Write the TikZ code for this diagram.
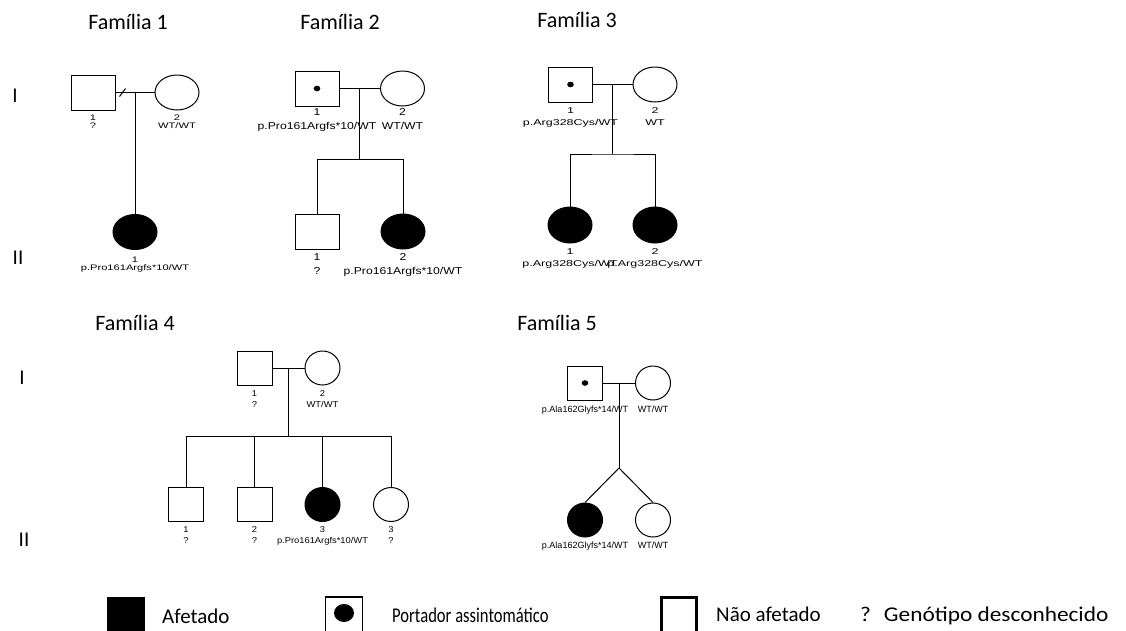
\documentclass[tikz,border=0pt]{standalone}
\usepackage{fontspec}
\setmainfont{Carlito}
\newfontfamily\legnarrow[FakeStretch=0.79]{Carlito}
\newfontfamily\legwide[FakeStretch=1.11]{Carlito}
\newfontfamily\labfontA[FakeStretch=1.39]{Liberation Sans}
\newfontfamily\labfontB[FakeStretch=1.22]{Liberation Sans}
\newfontfamily\labfontC[FakeStretch=1.47]{Liberation Sans}
\newfontfamily\labfontD[FakeStretch=1.1]{Liberation Sans}
\newfontfamily\labfontE{Liberation Sans}
\usetikzlibrary{positioning,shapes.geometric,calc}

\tikzset{
  sym/.style={draw, line width=1pt, inner sep=0pt},
  big/.style={minimum width=44pt, minimum height=35pt},
  small/.style={minimum width=35pt, minimum height=34pt},
  male/.style={sym, rectangle},
  female/.style={sym, ellipse},
  affected/.style={fill=black},
  carrier/.style={path picture={\fill (path picture bounding box.center) ellipse (3.3pt and 2.8pt);}},
  ped/.style={line width=1pt},
  lab/.style={inner sep=0pt, align=center},
  labA/.style={lab, font=\labfontA\fontsize{8}{8}\selectfont},
  labB/.style={lab, font=\labfontB\fontsize{10}{14}\selectfont},
  labC/.style={lab, font=\labfontC\fontsize{8.5}{12}\selectfont},
  labD/.style={lab, font=\labfontD\fontsize{8.5}{11}\selectfont},
  labE/.style={lab, font=\labfontE\fontsize{9}{11}\selectfont},
  title/.style={font=\fontsize{22}{22}\selectfont, inner sep=0pt},
  gen/.style={font=\fontsize{21}{21}\selectfont, inner sep=0pt},
  legtext/.style={font=\fontsize{21}{21}\selectfont, inner sep=0pt, anchor=base west},
}

\begin{document}
\begin{tikzpicture}[x=1pt, y=-1pt]
  \useasboundingbox (0,0) rectangle (1126,630);
  \clip (0,0) rectangle (1126,630);

  % generations
  \node[gen] (genIa) at (15,96) {I};
  \node[gen] (genIIa) at (18,258) {II};
  \node[gen] (genIb) at (22,378) {I};
  \node[gen] (genIIb) at (24,540) {II};

  %%%%%%%%%%%%%%%%%%%%%%%%%%%%%%%%%%%%%%%%%%%%%%%%%%%%%%%%%%%%%%%%%%%%%%%%%%%
  %%%%  Familia 1
  \node[title] (t1) at (128,22) {Família 1};
  \node[male, big] (f1m) at (93,92.5) {};
  \node[female, big] (f1f) at (177,92.5) {};
  \node[female, big, affected] (f1c) at (135,232) {};
  \coordinate (f1j) at (f1c |- f1m);
  \draw[ped] (f1m) -- (f1f);
  \draw[ped] (f1j) -- (f1c.north);
  \draw[ped] ([shift={(4,4)}]f1m.east) -- ([shift={(10,-4)}]f1m.east);
  \node[labA, below=4.5pt of f1m] (f1ml) {1\\?};
  \node[labA, below=4.5pt of f1f] (f1fl) {2\\WT/WT};
  \node[labA, below=7pt of f1c] (f1cl) {1\\p.Pro161Argfs*10/WT};

  %%%%%%%%%%%%%%%%%%%%%%%%%%%%%%%%%%%%%%%%%%%%%%%%%%%%%%%%%%%%%%%%%%%%%%%%%%%
  %%%%  Familia 2
  \node[title] (t2) at (340,22) {Família 2};
  \node[male, big, carrier] (f2m) at (317,88.5) {};
  \node[female, big] (f2f) at (402.5,88.5) {};
  \node[male, big] (f2c1) at (317,231.5) {};
  \node[female, big, affected] (f2c2) at (403,231.5) {};
  \coordinate (f2j) at ($(f2m.east)!0.5!(f2f.west)$);
  \coordinate (f2sib) at ($(f2j)+(0,71)$);
  \draw[ped] (f2m) -- (f2f);
  \draw[ped] (f2j) -- (f2sib);
  \draw[ped] (f2c1.north) |- (f2sib) -| (f2c2.north);
  \node[labB, below=1.5pt of f2m] (f2ml) {1\\p.Pro161Argfs*10/WT};
  \node[labB, below=1.5pt of f2f] (f2fl) {2\\WT/WT};
  \node[labB, below=4pt of f2c1] (f2c1l) {1\\?};
  \node[labB, below=4pt of f2c2] (f2c2l) {2\\p.Pro161Argfs*10/WT};

  %%%%%%%%%%%%%%%%%%%%%%%%%%%%%%%%%%%%%%%%%%%%%%%%%%%%%%%%%%%%%%%%%%%%%%%%%%%
  %%%%  Familia 3
  \node[title] (t3) at (577,20) {Família 3};
  \node[male, big, carrier] (f3m) at (570.5,84.5) {};
  \node[female, big] (f3f) at (655,84.5) {};
  \node[female, big, affected, minimum height=36pt] (f3c1) at (570,225) {};
  \node[female, big, affected, minimum height=36pt] (f3c2) at (655,225) {};
  \coordinate (f3j) at ($(f3m.east)!0.5!(f3f.west)$);
  \coordinate (f3sib) at ($(f3j)+(0,69.5)$);
  \draw[ped] (f3m) -- (f3f);
  \draw[ped] (f3j) -- (f3sib);
  \draw[ped] (f3c1.north) |- (f3sib) -| (f3c2.north);
  \node[labC, below=4.5pt of f3m] (f3ml) {1\\p.Arg328Cys/WT};
  \node[labC, below=4.5pt of f3f] (f3fl) {2\\WT};
  \node[labC, below=4.5pt of f3c1] (f3c1l) {1\\p.Arg328Cys/WT};
  \node[labC, below=4.5pt of f3c2] (f3c2l) {2\\p.Arg328Cys/WT};

  %%%%%%%%%%%%%%%%%%%%%%%%%%%%%%%%%%%%%%%%%%%%%%%%%%%%%%%%%%%%%%%%%%%%%%%%%%%
  %%%%  Familia 4
  \node[title] (t4) at (135,323) {Família 4};
  \node[male, small] (f4m) at (254.5,368) {};
  \node[female, small] (f4f) at (322.5,368) {};
  \node[male, small] (f4c1) at (186,504.5) {};
  \node[male, small] (f4c2) at (254.5,504.5) {};
  \node[female, small, affected] (f4c3) at (322.5,504.5) {};
  \node[female, small] (f4c4) at (391,504.5) {};
  \coordinate (f4j) at ($(f4m.east)!0.5!(f4f.west)$);
  \coordinate (f4sib) at ($(f4j)+(0,68)$);
  \draw[ped] (f4m) -- (f4f);
  \draw[ped] (f4j) -- (f4sib);
  \draw[ped] (f4c1.north) |- (f4sib) -| (f4c4.north);
  \foreach \c in {f4c2,f4c3}
    \draw[ped] (\c.north) -- (\c |- f4sib);
  \node[labD, below=5pt of f4m] (f4ml) {1\\?};
  \node[labD, below=5pt of f4f] (f4fl) {2\\WT/WT};
  \node[labD, below=4.5pt of f4c1] (f4c1l) {1\\?};
  \node[labD, below=4.5pt of f4c2] (f4c2l) {2\\?};
  \node[labD, below=4.5pt of f4c3] (f4c3l) {3\\p.Pro161Argfs*10/WT};
  \node[labD, below=4.5pt of f4c4] (f4c4l) {3\\?};

  %%%%%%%%%%%%%%%%%%%%%%%%%%%%%%%%%%%%%%%%%%%%%%%%%%%%%%%%%%%%%%%%%%%%%%%%%%%
  %%%%  Familia 5
  \node[title] (t5) at (557,323) {Família 5};
  \node[male, small, carrier] (f5m) at (585,383) {};
  \node[female, small] (f5f) at (653,383) {};
  \node[female, small, affected] (f5c1) at (585,520) {};
  \node[female, small] (f5c2) at (653,520) {};
  \coordinate (f5j) at ($(f5m.east)!0.5!(f5f.west)$);
  \coordinate (f5tw) at ($(f5j)+(0,85)$);
  \draw[ped] (f5m) -- (f5f);
  \draw[ped] (f5j) -- (f5tw);
  \draw[ped] (f5tw) -- (f5c1.north);
  \draw[ped] (f5tw) -- (f5c2.north);
  \node[labE, below=5pt of f5m] (f5ml) {p.Ala162Glyfs*14/WT};
  \node[labE, below=5pt of f5f] (f5fl) {WT/WT};
  \node[labE, below=4pt of f5c1] (f5c1l) {p.Ala162Glyfs*14/WT};
  \node[labE, below=4pt of f5c2] (f5c2l) {WT/WT};

  %%%%%%%%%%%%%%%%%%%%%%%%%%%%%%%%%%%%%%%%%%%%%%%%%%%%%%%%%%%%%%%%%%%%%%%%%%%
  %%%%  Legenda
  \node[fill=black, inner sep=0pt, minimum width=38pt, minimum height=38pt] (legaff) at (126,616) {};
  \node[draw, line width=1.3pt, inner sep=0pt, minimum width=37pt, minimum height=38pt] (legcar) at (344,616) {};
  \fill ([yshift=3pt]legcar.center) ellipse (10pt and 9pt);
  \node[draw, line width=3pt, inner sep=0pt, minimum width=35pt, minimum height=37pt] (legun) at (679,616) {};
  \node[legtext] (legafft) at (162,623) {Afetado};
  \node[legtext, font=\legnarrow\fontsize{21}{21}\selectfont] (legcart) at (392,622) {Portador assintomático};
  \node[legtext] (leguntt) at (716,621) {Não afetado};
  \node[legtext, font=\legwide\fontsize{21}{21}\selectfont] (legunkt) at (860,621) {?\hspace{13pt}Genótipo desconhecido};
\end{tikzpicture}
\end{document}
